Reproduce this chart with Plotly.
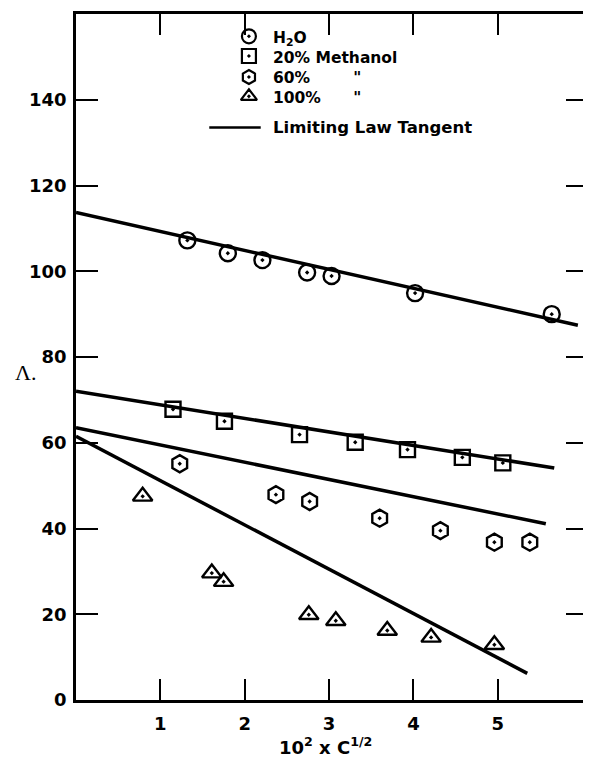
import plotly.graph_objects as go

# ---- data ----
h2o_x = [1.32, 1.80, 2.21, 2.74, 3.03, 4.02, 5.64]
h2o_y = [107.2, 104.2, 102.6, 99.7, 98.9, 94.9, 90.0]

meoh20_x = [1.15, 1.76, 2.65, 3.31, 3.93, 4.58, 5.06]
meoh20_y = [67.8, 65.0, 61.9, 60.1, 58.4, 56.6, 55.3]

meoh60_x = [1.23, 2.37, 2.77, 3.60, 4.32, 4.96, 5.38]
meoh60_y = [55.1, 47.9, 46.3, 42.4, 39.5, 36.8, 36.8]

meoh100_x = [0.79, 1.61, 1.75, 2.76, 3.08, 3.69, 4.21, 4.96]
meoh100_y = [47.5, 29.6, 27.6, 19.9, 18.5, 16.2, 14.6, 12.9]

# limiting-law tangents: start and end points
tangent_x0 = [0, 0, 0, 0]
tangent_y0 = [113.7, 72.0, 63.5, 61.5]
tangent_x1 = [5.95, 5.67, 5.57, 5.35]
tangent_y1 = [87.4, 54.1, 41.1, 6.2]

x_ticks = [1, 2, 3, 4, 5]
y_ticks = [0, 20, 40, 60, 80, 100, 120, 140]

legend_labels = ["H<sub>2</sub>O", "20% Methanol",
                 "60%" + "&nbsp;" * 8 + '"', "100%" + "&nbsp;" * 6 + '"']
legend_symbols = ["circle-open-dot", "square-open-dot", "hexagon-open-dot", "triangle-up-open-dot"]
legend_row_y = [154.8, 150.2, 145.3, 140.8]
legend_block_y = 147.5
legend_line_row_y = 133.5
legend_marker_x = 2.05
legend_text_x = 2.31

FONT = "Century Gothic, DejaVu Sans, sans-serif"

fig = go.Figure()

for x0, y0, x1, y1 in zip(tangent_x0, tangent_y0, tangent_x1, tangent_y1):
    fig.add_trace(go.Scatter(x=[x0, x1], y=[y0, y1], mode="lines",
                             line=dict(color="black", width=3.5),
                             showlegend=False, hoverinfo="skip"))

series = [
    (h2o_x, h2o_y, "circle-open-dot", 16),
    (meoh20_x, meoh20_y, "square-open-dot", 15),
    (meoh60_x, meoh60_y, "hexagon-open-dot", 17),
    (meoh100_x, meoh100_y, "triangle-up-open-dot", 17),
]
for xs, ys, sym, sz in series:
    fig.add_trace(go.Scatter(x=xs, y=ys, mode="markers",
                             marker=dict(symbol=sym, size=sz, color="black",
                                         line=dict(color="black", width=2.4)),
                             showlegend=False))

# manual legend
for sym, yy in zip(legend_symbols, legend_row_y):
    fig.add_trace(go.Scatter(x=[legend_marker_x], y=[yy], mode="markers",
                             marker=dict(symbol=sym, size=14, color="black",
                                         line=dict(color="black", width=2.2)),
                             showlegend=False, hoverinfo="skip"))
fig.add_annotation(x=legend_text_x, y=legend_block_y, xref="x", yref="y",
                   text="<br>".join(legend_labels), showarrow=False,
                   xanchor="left", yanchor="middle", align="left",
                   font=dict(family=FONT, size=15.5, color="black", weight="bold"))
fig.add_trace(go.Scatter(x=[1.58, 2.19], y=[legend_line_row_y, legend_line_row_y],
                         mode="lines", line=dict(color="black", width=2.5),
                         showlegend=False, hoverinfo="skip"))
fig.add_annotation(x=legend_text_x, y=legend_line_row_y, xref="x", yref="y",
                   text="Limiting Law Tangent", showarrow=False,
                   xanchor="left", yanchor="middle",
                   font=dict(family=FONT, size=16.5, color="black", weight="bold"))

# axis titles
fig.add_annotation(x=0.487, y=-0.067, xref="paper", yref="paper",
                   text="10<sup>2</sup> x C<sup>1/2</sup>", showarrow=False,
                   xanchor="center", yanchor="middle",
                   font=dict(family=FONT, size=18, color="black", weight="bold"))
fig.add_annotation(x=-0.099, y=0.478, xref="paper", yref="paper",
                   text="Λ.", showarrow=False, xanchor="center", yanchor="middle",
                   font=dict(family="Liberation Serif, serif", size=22, color="black"))

fig.update_xaxes(range=[0, 6.07], showline=True, linecolor="black", linewidth=2.5,
                 mirror="ticks", ticks="inside", ticklen=21, tickwidth=1.5,
                 tickcolor="black", tickvals=x_ticks, ticktext=[str(v) for v in x_ticks],
                 showgrid=False, zeroline=False, ticklabelstandoff=6,
                 tickfont=dict(family=FONT, size=18, color="black", weight="bold"))
fig.update_yaxes(range=[0, 160], showline=True, linecolor="black", linewidth=2.5,
                 mirror="ticks", ticks="inside", ticklen=22, tickwidth=1.5,
                 tickcolor="black", tickvals=y_ticks, ticktext=[str(v) for v in y_ticks],
                 showgrid=False, zeroline=False, ticklabelstandoff=3,
                 tickfont=dict(family=FONT, size=18, color="black", weight="bold"))

# the page body adds an 8px margin, so the figure is sized to fit the 591x761 window
fig.update_layout(width=583, height=753, margin=dict(l=68, r=0, t=6, b=61),
                  plot_bgcolor="white", paper_bgcolor="white", showlegend=False)

fig.write_html("out.html")
